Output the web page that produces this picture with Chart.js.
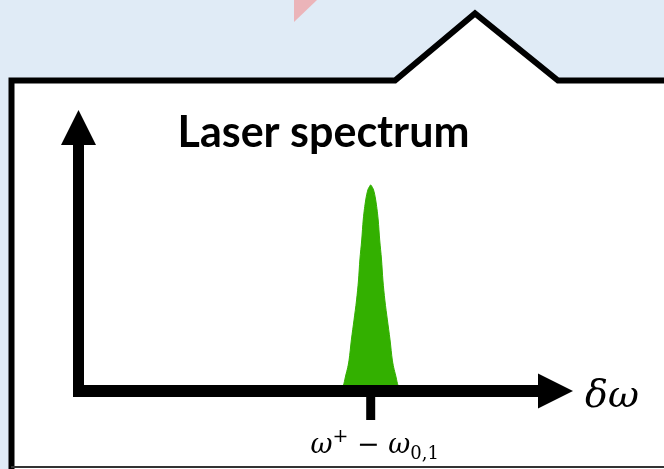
<!DOCTYPE html>
<html>
<head>
<meta charset="utf-8">
<script src="https://cdn.jsdelivr.net/npm/chart.js@4"></script>
<style>
  html, body { margin: 0; padding: 0; background: #e0ebf6; }
  canvas { display: block; }
</style>
</head>
<body>
<canvas id="spectrumChart" width="664" height="469"></canvas>
<script>
// detuning from the transition (arbitrary units) and normalised laser intensity
const detuning = [-3.0, -2.72, -2.535, -2.165, -1.935, -1.67, -1.415, -1.22, -1.085, -0.9, -0.75, -0.5, -0.285, -0.15, 0,
                  0.15, 0.285, 0.5, 0.75, 0.9, 1.085, 1.22, 1.415, 1.67, 1.935, 2.165, 2.535, 2.72, 3.0];
const intensity = [0, 0.029, 0.068, 0.150, 0.248, 0.345, 0.442, 0.539, 0.636, 0.733, 0.830, 0.927, 0.976, 0.990, 1,
                   0.990, 0.976, 0.927, 0.830, 0.733, 0.636, 0.539, 0.442, 0.345, 0.248, 0.150, 0.068, 0.029, 0];
const tickValues = [0];
const tickLabel = "ω⁺ − ω₀,₁";
const titleText = "Laser spectrum";
const axisLabel = "δω";

const green = "#33b000";

// light blue slide, pink corner and the white callout box behind the plot
const backdrop = {
  id: "backdrop",
  beforeDraw(chart) {
    const ctx = chart.ctx;
    ctx.save();
    ctx.fillStyle = "#e0ebf6";
    ctx.fillRect(0, 0, chart.width, chart.height);

    ctx.fillStyle = "#ebb4b9";
    ctx.beginPath();
    ctx.moveTo(294, 0);
    ctx.lineTo(317, 0);
    ctx.lineTo(294, 22);
    ctx.closePath();
    ctx.fill();

    ctx.beginPath();
    ctx.moveTo(11.5, 480);
    ctx.lineTo(11.5, 80.5);
    ctx.lineTo(395, 80.5);
    ctx.lineTo(475, 13.5);
    ctx.lineTo(558, 80.5);
    ctx.lineTo(680, 80.5);
    ctx.lineTo(680, 480);
    ctx.closePath();
    ctx.fillStyle = "#ffffff";
    ctx.fill();
    ctx.lineWidth = 6;
    ctx.lineJoin = "miter";
    ctx.strokeStyle = "#000000";
    ctx.stroke();

    ctx.fillStyle = "#333333";
    ctx.fillRect(11, 466, chart.width, 2);
    ctx.restore();
  }
};

// thick arrow axes, the single tick and all text
const arrowAxes = {
  id: "arrowAxes",
  afterDatasetsDraw(chart) {
    const ctx = chart.ctx;
    const area = chart.chartArea;
    const xs = chart.scales.x;
    const ys = chart.scales.y;
    const x0 = area.left;
    const y0 = ys.getPixelForValue(0);
    const head = 35;
    const half = 17.5;
    ctx.save();
    ctx.fillStyle = "#000000";

    // vertical axis
    ctx.fillRect(x0 - 5.5, area.top + head - 1, 11, y0 + 6 - (area.top + head - 1));
    ctx.beginPath();
    ctx.moveTo(x0, area.top);
    ctx.lineTo(x0 + half, area.top + head);
    ctx.lineTo(x0 - half, area.top + head);
    ctx.closePath();
    ctx.fill();

    // horizontal axis
    ctx.fillRect(x0 - 5.5, y0 - 6, area.right - head + 1 - (x0 - 5.5), 12);
    ctx.beginPath();
    ctx.moveTo(area.right, y0);
    ctx.lineTo(area.right - head, y0 - half);
    ctx.lineTo(area.right - head, y0 + half);
    ctx.closePath();
    ctx.fill();

    // tick
    tickValues.forEach((v) => {
      const tx = xs.getPixelForValue(v);
      ctx.fillRect(tx - 4.5, y0, 9, 29);
    });

    // title
    ctx.font = "bold 43px Lato";
    ctx.textAlign = "center";
    ctx.textBaseline = "alphabetic";
    ctx.fillText(titleText, 323.5, 147, 298);

    // axis label
    ctx.textAlign = "left";
    ctx.font = "italic 38px 'DejaVu Serif'";
    ctx.fillText(axisLabel, area.right + 12, y0 + 16);

    // tick label, drawn in runs so the super/subscripts sit right
    const runs = [
      { t: "ω", f: "italic 27px 'DejaVu Serif'", dy: 0 },
      { t: "+", f: "19px 'DejaVu Serif'", dy: -11 },
      { t: " − ", f: "27px 'DejaVu Serif'", dy: 0 },
      { t: "ω", f: "italic 27px 'DejaVu Serif'", dy: 0 },
      { t: "0,1", f: "18px 'DejaVu Serif'", dy: 6 }
    ];
    let total = 0;
    runs.forEach((r) => {
      ctx.font = r.f;
      r.w = ctx.measureText(r.t).width;
      total += r.w;
    });
    let cx = xs.getPixelForValue(tickValues[0]) + 4 - total / 2;
    runs.forEach((r) => {
      ctx.font = r.f;
      ctx.fillText(r.t, cx, 453 + r.dy);
      cx += r.w;
    });
    ctx.restore();
  }
};

const points = detuning.map((d, i) => ({ x: d, y: intensity[i] }));

new Chart(document.getElementById("spectrumChart").getContext("2d"), {
  type: "line",
  data: {
    datasets: [
      {
        label: titleText,
        data: points,
        borderColor: green,
        backgroundColor: green,
        borderWidth: 1,
        fill: "origin",
        pointRadius: 0,
        cubicInterpolationMode: "monotone"
      }
    ]
  },
  options: {
    responsive: false,
    animation: false,
    layout: {
      padding: { left: 78.5, right: 91, top: 110, bottom: 78 }
    },
    scales: {
      x: { type: "linear", min: -29.25, max: 20.25, display: false },
      y: { min: 0, max: 1.364, display: false }
    },
    plugins: {
      legend: { display: false },
      tooltip: { enabled: false },
      title: { display: false }
    }
  },
  plugins: [backdrop, arrowAxes]
});
</script>
</body>
</html>
